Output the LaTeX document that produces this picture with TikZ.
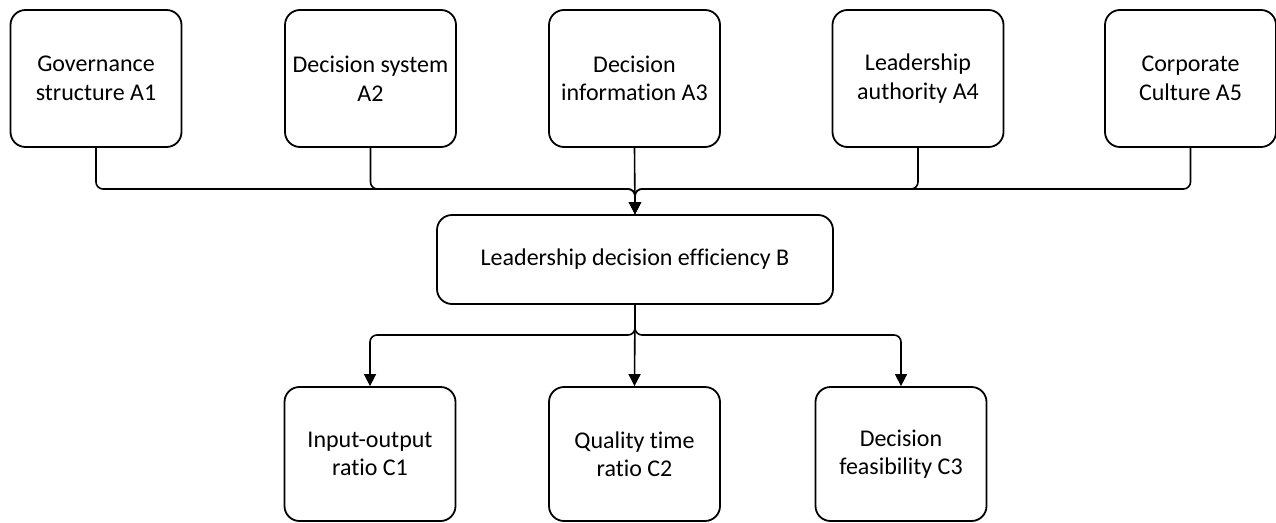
\documentclass[tikz,border=0pt]{standalone}
\usepackage{fontspec}
\setmainfont{Carlito}[Ligatures=NoCommon]
\usetikzlibrary{arrows.meta}
\begin{document}
\begin{tikzpicture}[x=1pt,y=-1pt,
  box/.style={draw,line width=1.8pt,rounded corners=15pt,align=center,
    font=\fontsize{24}{28.5}\selectfont,inner sep=0pt},
  abox/.style={box,minimum width=171pt,minimum height=137pt},
  cbox/.style={box,minimum width=171pt,minimum height=134pt},
  conn/.style={line width=1.6pt,rounded corners=7pt},
  arr/.style={conn,-{Triangle[length=12pt,width=12pt]}}]
\useasboundingbox (0,0) rectangle (1276,522);
\node[abox] (A1) at (96,78.5) {Governance\\structure A1};
\node[abox] (A2) at (370.5,78.5) {Decision system\\A2};
\node[abox] (A3) at (634.5,78.5) {Decision\\information A3};
\node[abox] (A4) at (918,78.5) {Leadership\\authority A4};
\node[abox] (A5) at (1190.5,78.5) {Corporate\\Culture A5};
\node[box,minimum width=396pt,minimum height=89pt] (B) at (635,259.5) {Leadership decision efficiency B};
\node[cbox] (C1) at (370,454) {Input-output\\ratio C1};
\node[cbox] (C2) at (634.5,454) {Quality time\\ratio C2};
\node[cbox] (C3) at (901,454) {Decision\\feasibility C3};
\coordinate (j1) at (635,189);
\coordinate (j2) at (635,335);
\draw[arr] (A1.south) |- (j1) -- (B.north);
\draw[arr] (A2.south) |- (j1) -- (B.north);
\draw[arr] (A4.south) |- (j1) -- (B.north);
\draw[arr] (A5.south) |- (j1) -- (B.north);
\draw[arr] (A3.south) -- (B.north);
\draw[arr] (B.south) -- (j2) -| (C1.north);
\draw[arr] (B.south) -- (C2.north);
\draw[arr] (B.south) -- (j2) -| (C3.north);
\end{tikzpicture}
\end{document}
